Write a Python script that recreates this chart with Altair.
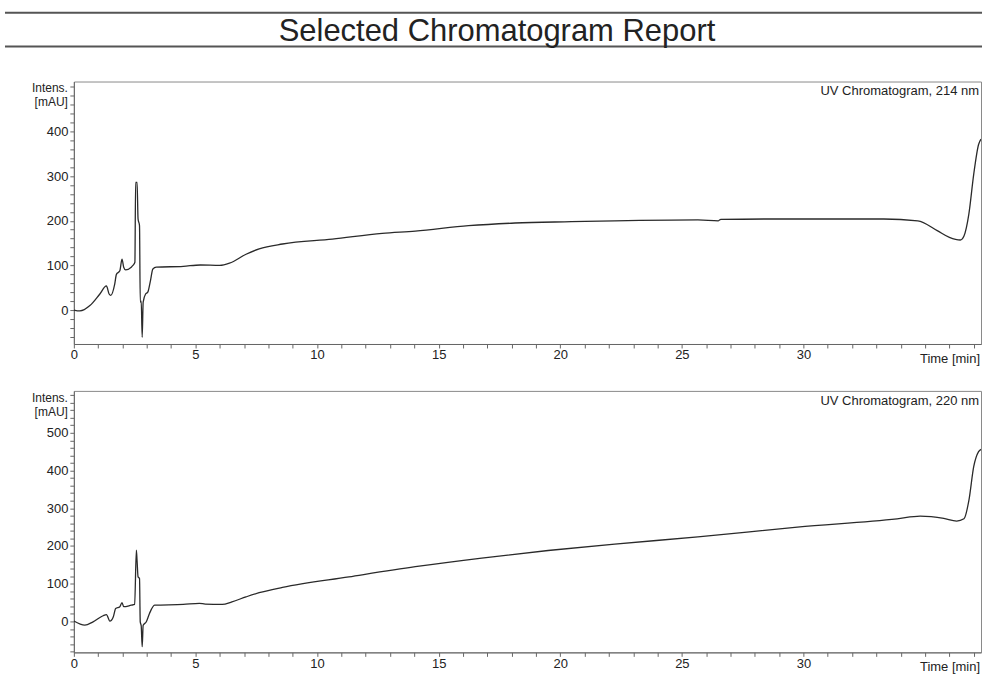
import altair as alt
import pandas as pd

# ---- data ----
t214 = [0.0, 0.25, 0.66, 1.07, 1.34, 1.45, 1.52, 1.68, 1.75, 1.89, 1.98, 2.05, 2.13, 2.36, 2.43, 2.51,
        2.54, 2.60, 2.64, 2.70, 2.73, 2.77, 2.81, 2.85, 2.95, 3.04, 3.14, 3.25, 3.39, 4.5, 5.2, 6.0,
        6.4, 7.08, 7.62, 8.58, 10.63, 12.68, 14.04, 16.23, 18.14, 20.46, 22.24, 25.66, 26.5, 26.6,
        28.5, 33.3, 34.7, 35.5, 36.0, 36.45, 36.6, 36.8, 37.0, 37.2, 37.3]
v214 = [0, -2, 10, 36, 54, 36, 33, 58, 80, 88, 114, 96, 90, 96, 100, 107,
        286, 286, 204, 189, 18, 20, -61, 18, 36, 40, 63, 92, 96, 98, 101, 100,
        105, 125, 137, 148, 159, 172, 177, 189, 195, 198, 200, 202, 200, 203,
        204, 204, 200, 178, 163, 157, 166, 215, 304, 371, 383]

t220 = [0.0, 0.45, 0.79, 1.2, 1.34, 1.48, 1.62, 1.72, 1.89, 1.98, 2.05, 2.36, 2.5, 2.57, 2.6, 2.64,
        2.7, 2.73, 2.77, 2.81, 2.85, 2.98, 3.11, 3.32, 4.5, 5.16, 5.4, 6.1, 6.5, 7.08, 7.62, 8.58,
        11.31, 14.04, 16.77, 19.5, 22.24, 25.66, 29.75, 33.85, 34.8, 35.77, 36.3,
        36.6, 36.8, 37.0, 37.2, 37.3]
v220 = [1, -10, -1, 15, 18, 1, 12, 34, 39, 50, 39, 43, 45, 189, 160, 118,
        114, -1, -12, -67, -10, -1, 21, 43, 45, 48, 46, 45, 52, 65, 76, 90,
        118, 145, 168, 188, 205, 224, 250, 272, 279, 273, 266,
        272, 320, 410, 450, 456]

x_ticks = list(range(0, 38))
y_ticks_214 = list(range(-60, 501, 20))
y_ticks_220 = list(range(-80, 601, 20))

title_text = "Selected Chromatogram Report"
label_214 = "UV Chromatogram, 214 nm"
label_220 = "UV Chromatogram, 220 nm"
x_title = "Time [min]"
y_title1 = "Intens."
y_title2 = "[mAU]"

FONT = "Liberation Sans"
W = 909
X_DOMAIN = [0, 37.3]
one = pd.DataFrame({"a": [0]})


def panel(t, v, ydom, yticks, ymaxlabel, label, h, header=False):
    df = pd.DataFrame({"t": t, "v": v})
    x = alt.X("t:Q", scale=alt.Scale(domain=X_DOMAIN, nice=False, zero=False),
              axis=alt.Axis(values=x_ticks, title=None, grid=False, tickSize=4, labelPadding=1,
                            labelFlush=False, labelOverlap=False,
                            labelExpr="datum.value % 5 === 0 && datum.value < 35 ? datum.label : ''"))
    y = alt.Y("v:Q", scale=alt.Scale(domain=ydom, nice=False, zero=False),
              axis=alt.Axis(values=yticks, title=None, grid=False, tickSize=4, labelPadding=2,
                            labelFlush=False, labelOverlap=False,
                            labelExpr=f"datum.value % 100 === 0 && datum.value < {ymaxlabel} ? datum.label : ''"))
    line = alt.Chart(df).mark_line(color="#2a2a2a", strokeWidth=1.3, clip=True,
                                   interpolate="monotone").encode(x=x, y=y)

    def txt(text, xv, yv, align, size, **kw):
        return alt.Chart(one).mark_text(text=text, align=align, baseline="middle", font=FONT,
                                        fontSize=size, color="#222", **kw).encode(
            x=alt.value(xv), y=alt.value(yv))

    layers = [line,
              txt(label, W - 2, 10, "right", 13),
              txt(x_title, W - 1, h + 15, "right", 13),
              txt(y_title1, -6, 7, "right", 12),
              txt(y_title2, -6, 21, "right", 12)]
    if header:
        for yy in (-69, -35):
            layers.append(alt.Chart(one).mark_rule(color="#555", strokeWidth=2).encode(
                x=alt.value(-69), x2=alt.value(W + 1), y=alt.value(yy)))
        layers.append(txt(title_text, 424, -50, "center", 31))
    return alt.layer(*layers).properties(width=W, height=h)


top = panel(t214, v214, [-76, 512], y_ticks_214, 500, label_214, 263, header=True)
bottom = panel(t220, v220, [-82, 611], y_ticks_220, 600, label_220, 262)

chart = alt.vconcat(top, bottom, spacing=47, bounds="flush").properties(
    padding={"left": 3, "top": 10, "right": 0, "bottom": 0}
).configure_view(stroke="#8a8a8a", strokeWidth=1).configure_axis(
    domainColor="#666", tickColor="#666", labelColor="#222", labelFont=FONT, labelFontSize=13
)

chart.save("out.html", embed_options={"renderer": "svg", "actions": False})
